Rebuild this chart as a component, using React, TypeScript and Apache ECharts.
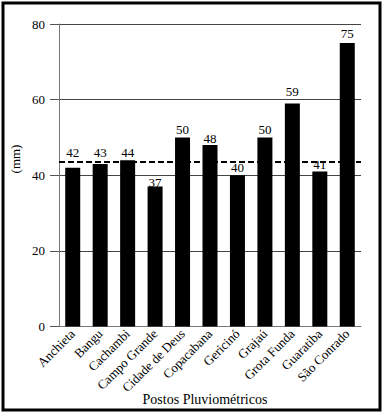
import React, { useEffect, useRef } from "react";
import * as echarts from "echarts";

const categories = [
  "Anchieta",
  "Bangu",
  "Cachambi",
  "Campo Grande",
  "Cidade de Deus",
  "Copacabana",
  "Gericinó",
  "Grajaú",
  "Grota Funda",
  "Guaratiba",
  "São Conrado",
];
const values = [42, 43, 44, 37, 50, 48, 40, 50, 59, 41, 75];
const referenceLine = 43.5;
const yTicks = { min: 0, max: 80, interval: 20 };
const xTitle = "Postos Pluviométricos";
const yTitle = "(mm)";

const FONT = "Liberation Serif";

export default function App() {
  const ref = useRef<HTMLDivElement>(null);
  useEffect(() => {
    if (!ref.current) return;
    // label gaps above each bar (style only), as placed in the original figure
    const labelGap = [9, 5, 1, -2, 1, 0.5, 1, 1, 5, 0, 2.5];
    const barData = values.map((v, i) => ({
      value: v,
      label: { distance: labelGap[i] },
    }));
    const chart = echarts.init(ref.current, null, { renderer: "svg" });
    chart.setOption({
      animation: false,
      backgroundColor: "#fff",
      textStyle: { fontFamily: FONT },
      grid: { left: 59, right: 22, top: 24, bottom: 87.5 },
      xAxis: {
        type: "category",
        data: categories,
        axisLine: { lineStyle: { color: "#777", width: 1 } },
        axisTick: { show: false },
        axisLabel: {
          rotate: 45,
          interval: 0,
          margin: 5,
          color: "#000",
          fontSize: 13,
          fontFamily: FONT,
        },
      },
      yAxis: {
        type: "value",
        min: yTicks.min,
        max: yTicks.max,
        interval: yTicks.interval,
        axisLine: { show: true, lineStyle: { color: "#777", width: 1 } },
        axisTick: { show: true, length: 9, lineStyle: { color: "#555" } },
        axisLabel: { color: "#000", fontSize: 13, fontFamily: FONT, margin: 14 },
        splitLine: { lineStyle: { color: "#444", width: 1 } },
      },
      series: [
        {
          type: "bar",
          data: barData,
          barWidth: 15,
          itemStyle: { color: "#000" },
          label: {
            show: true,
            position: "top",
            distance: 1,
            color: "#000",
            fontSize: 13,
            fontFamily: FONT,
          },
          markLine: {
            symbol: "none",
            silent: true,
            label: { show: false },
            lineStyle: { color: "#000", type: [6, 3], width: 2 },
            data: [{ yAxis: referenceLine }],
          },
        },
      ],
      graphic: [
        {
          type: "rect",
          shape: { x: 3, y: 3, width: 377, height: 407 },
          style: { fill: "none", stroke: "#000", lineWidth: 3 },
          silent: true,
        },
        {
          type: "text",
          x: 15,
          y: 159,
          rotation: Math.PI / 2,
          style: {
            text: yTitle,
            fill: "#000",
            fontSize: 13,
            fontFamily: FONT,
            align: "center",
            verticalAlign: "middle",
          },
        },
        {
          type: "text",
          x: 205,
          y: 399,
          style: {
            text: xTitle,
            fill: "#000",
            fontSize: 14,
            fontFamily: FONT,
            align: "center",
            verticalAlign: "middle",
          },
        },
      ],
    });
    return () => chart.dispose();
  }, []);
  return (
    <div style={{ position: "fixed", left: 0, top: 0, width: 383, height: 414 }}>
      <div ref={ref} style={{ width: 383, height: 414 }} />
    </div>
  );
}
